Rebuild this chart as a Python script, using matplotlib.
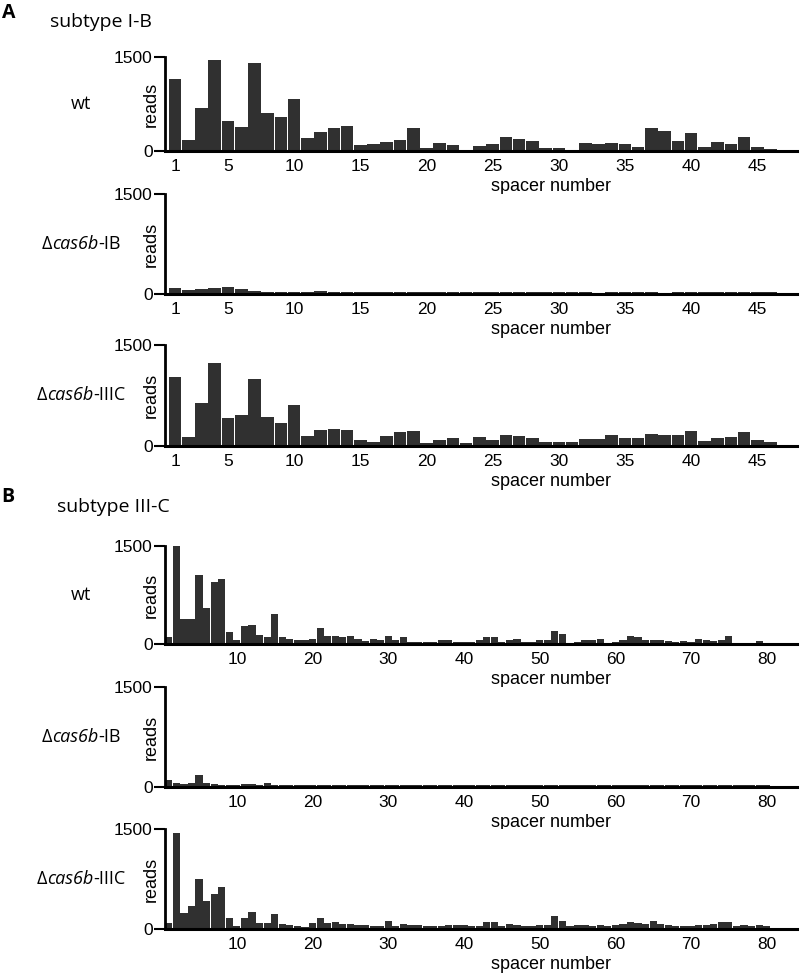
## Import Required Libraries

import numpy as np
import matplotlib
matplotlib.use("Agg")
import matplotlib.pyplot as plt
from matplotlib.offsetbox import TextArea, HPacker, AnnotationBbox

plt.rcParams['font.family'] = ['Liberation Sans', 'DejaVu Sans']

## Data (reads per spacer)

# subtype I-B array, spacers 1-46
ib_spacers = np.arange(1, 47)
ib_wt = [1150, 180, 680, 1460, 480, 390, 1400, 600, 540, 830,
         200, 300, 360, 400, 90, 110, 150, 175, 370, 40,
         120, 95, 10, 85, 105, 220, 185, 165, 50, 50,
         10, 120, 105, 120, 105, 70, 370, 320, 160, 290,
         70, 150, 110, 220, 70, 30]
ib_d_ib = [90, 60, 70, 85, 110, 80, 45, 30, 30, 30,
           30, 40, 30, 30, 30, 30, 30, 30, 30, 30,
           30, 30, 30, 30, 30, 30, 30, 30, 30, 30,
           30, 30, 0, 30, 30, 30, 30, 0, 30, 30,
           30, 30, 30, 30, 30, 30]
ib_d_iiic = [1020, 135, 640, 1230, 410, 460, 1000, 430, 340, 610,
             150, 235, 250, 235, 90, 60, 150, 205, 220, 45,
             95, 120, 45, 135, 95, 160, 145, 125, 60, 60,
             60, 105, 105, 160, 120, 120, 185, 160, 160, 220,
             70, 120, 135, 205, 85, 60]
ib_ticks = [1, 5, 10, 15, 20, 25, 30, 35, 40, 45]

# subtype III-C array, spacers 1-80
iiic_spacers = np.arange(1, 81)
iiic_wt = [110, 1500, 390, 390, 1050, 545, 950, 990, 190, 60,
           275, 290, 140, 110, 460, 110, 70, 60, 60, 70,
           240, 125, 125, 110, 120, 75, 45, 70, 60, 125,
           60, 100, 35, 35, 35, 35, 60, 55, 25, 35,
           35, 55, 110, 100, 35, 60, 75, 35, 35, 55,
           60, 200, 150, 20, 35, 60, 55, 75, 20, 35,
           55, 125, 105, 55, 60, 60, 45, 35, 45, 35,
           75, 60, 45, 60, 120, 20, 20, 20, 45, 20]
iiic_d_ib = [110, 60, 50, 60, 180, 60, 40, 30, 30, 30,
             45, 45, 30, 60, 30, 30, 30, 30, 30, 30,
             30, 30, 30, 30, 30, 30, 30, 30, 30, 30,
             30, 30, 30, 30, 30, 30, 30, 30, 30, 30,
             30, 30, 30, 30, 30, 30, 30, 30, 30, 30,
             30, 30, 30, 30, 30, 30, 30, 30, 30, 30,
             30, 30, 30, 30, 30, 30, 30, 30, 30, 30,
             30, 30, 30, 30, 30, 30, 30, 30, 30, 30]
iiic_d_iiic = [90, 1440, 240, 340, 750, 415, 530, 625, 165, 40,
               165, 255, 90, 90, 225, 75, 55, 40, 30, 90,
               165, 90, 105, 80, 75, 55, 65, 50, 50, 115,
               40, 75, 65, 55, 50, 50, 50, 55, 55, 60,
               50, 50, 100, 100, 40, 80, 65, 40, 40, 55,
               65, 200, 125, 50, 55, 65, 50, 65, 40, 65,
               80, 100, 90, 80, 115, 80, 55, 40, 40, 40,
               65, 65, 75, 105, 100, 40, 55, 40, 65, 40]
iiic_ticks = [10, 20, 30, 40, 50, 60, 70, 80]

## Figure

W, H = 800, 975
fig = plt.figure(figsize=(W / 100, H / 100), dpi=100)
bar_color = '#303030'
label_font = 'Open Sans'


def row_label(xc, yc, strain):
    # strain name: "wt" or ("cas6b", "-IB") with the gene name in italics
    props = dict(fontsize=13, family=label_font)
    if strain == 'wt':
        parts = [TextArea('wt', textprops=props)]
    else:
        parts = [TextArea('Δ', textprops=props),
                 TextArea(strain[0], textprops=dict(props, style='italic')),
                 TextArea(strain[1], textprops=props)]
    box = HPacker(children=parts, align='baseline', pad=0, sep=0)
    ab = AnnotationBbox(box, (xc, yc), xycoords='figure fraction',
                        frameon=False, box_alignment=(0.5, 0.5), pad=0)
    fig.add_artist(ab)


def add_panel(top, bottom, x, reads, ticks, xlim, strain):
    # top / bottom are the pixel rows of the 1500 and 0 ticks
    ax = fig.add_axes([165 / W, 1 - bottom / H, 632 / W, (bottom - top) / H])
    ax.bar(x, reads, width=0.95, color=bar_color, linewidth=0)
    ax.set_xlim(xlim)
    ax.set_ylim(0, 1500)
    ax.set_yticks([0, 1500])
    ax.set_xticks(ticks)
    for side in ['top', 'right']:
        ax.spines[side].set_visible(False)
    ax.spines['left'].set_linewidth(2)
    ax.spines['bottom'].set_linewidth(2.2)
    ax.tick_params(axis='y', length=8, width=1.5, labelsize=12.5, pad=1)
    ax.tick_params(axis='x', length=0, labelsize=12.5, pad=6)
    ax.set_ylabel('reads', fontsize=13)
    ax.yaxis.set_label_coords(-0.008, 0.5)
    ax.set_xlabel('spacer number', fontsize=13)
    ax.xaxis.set_label_coords(0.61, -27 / (bottom - top))
    row_label(81 / W, 1 - (top + bottom) / 2 / H, strain)
    return ax


wt = 'wt'
d_ib = ('cas6b', '-IB')
d_iiic = ('cas6b', '-IIIC')

## Panel A: subtype I-B

fig.text(9 / W, 1 - 13 / H, 'A', ha='center', va='center', fontsize=14,
         fontweight='bold', family=label_font)
fig.text(50 / W, 1 - 22 / H, 'subtype I-B', ha='left', va='center',
         fontsize=14, family=label_font)
add_panel(57, 151, ib_spacers, ib_wt, ib_ticks, (0.24, 48), wt)
add_panel(194, 294, ib_spacers, ib_d_ib, ib_ticks, (0.24, 48), d_ib)
add_panel(345, 446, ib_spacers, ib_d_iiic, ib_ticks, (0.24, 48), d_iiic)

## Panel B: subtype III-C

fig.text(8 / W, 1 - 497 / H, 'B', ha='center', va='center', fontsize=14,
         fontweight='bold', family=label_font)
fig.text(57 / W, 1 - 507 / H, 'subtype III-C', ha='left', va='center',
         fontsize=14, family=label_font)
add_panel(546, 644, iiic_spacers, iiic_wt, iiic_ticks, (0.5, 84), wt)
add_panel(687, 787, iiic_spacers, iiic_d_ib, iiic_ticks, (0.5, 84), d_ib)
add_panel(829, 929, iiic_spacers, iiic_d_iiic, iiic_ticks, (0.5, 84), d_iiic)

## Save

fig.savefig('out.png', dpi=100)
